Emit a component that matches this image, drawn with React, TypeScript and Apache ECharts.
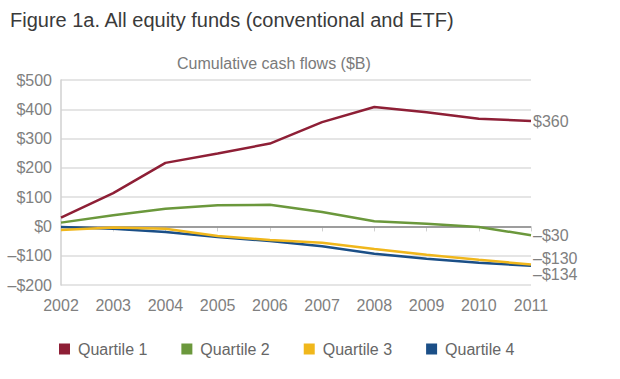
import React, { useEffect, useRef } from "react";
import * as echarts from "echarts";

const years = ["2002", "2003", "2004", "2005", "2006", "2007", "2008", "2009", "2010", "2011"];
const quartile1 = [30, 114, 217, 249, 283, 356, 408, 390, 368, 360];
const quartile2 = [13, 38, 60, 72, 74, 49, 18, 9, -2, -30];
const quartile3 = [-12, -4, -8, -33, -46, -56, -77, -97, -114, -130];
const quartile4 = [-2, -8, -19, -36, -50, -68, -93, -110, -124, -134];
const seriesNames = ["Quartile 1", "Quartile 2", "Quartile 3", "Quartile 4"];
const colors = ["#8e1f36", "#6b983c", "#f0b71c", "#1b4f87"];
const endOffsets = [[0, 0], [0, 0], [0, -6], [0, 9]];

function fmt(v: number) {
  return v < 0 ? "–$" + Math.abs(v) : "$" + v;
}

export default function App() {
  const ref = useRef<HTMLDivElement>(null);
  useEffect(() => {
    const chart = echarts.init(ref.current!, null, { renderer: "svg" });
    const data = [quartile1, quartile2, quartile3, quartile4];
    chart.setOption({
      animation: false,
      textStyle: { fontFamily: "Liberation Sans" },
      title: [
        {
          text: "Figure 1a. All equity funds (conventional and ETF)",
          left: 5,
          top: 5,
          textStyle: { fontSize: 20, fontWeight: "normal", color: "#3a3a3a", fontFamily: "Liberation Sans" },
        },
        {
          text: "Cumulative cash flows ($B)",
          left: 172,
          top: 50,
          textStyle: { fontSize: 16, fontWeight: "normal", color: "#7a7a7a", fontFamily: "Liberation Sans" },
        },
      ],
      legend: {
        data: seriesNames.map((n, i) => ({ name: n, itemStyle: { color: colors[i] } })),
        icon: "rect",
        itemWidth: 11,
        itemHeight: 11,
        itemGap: 34,
        left: 54,
        top: 336,
        textStyle: { fontSize: 16, color: "#666", fontFamily: "Liberation Sans", padding: [0, 0, 0, 3] },
      },
      grid: { left: 61, right: 89, top: 80, bottom: 94 },
      xAxis: {
        type: "category",
        data: years,
        boundaryGap: false,
        axisLine: { lineStyle: { color: "#d0d0d0", width: 1.5 } },
        axisTick: { show: true, length: 5, lineStyle: { color: "#d0d0d0" } },
        axisLabel: { color: "#808080", fontSize: 16, margin: 12 },
      },
      yAxis: {
        type: "value",
        min: -200,
        max: 500,
        interval: 100,
        axisLine: { show: true, lineStyle: { color: "#d0d0d0", width: 1.5 } },
        axisTick: { show: false },
        splitLine: { lineStyle: { color: "#dcdcdc", width: 1.5 } },
        axisLabel: { color: "#808080", fontSize: 16, margin: 9, formatter: (v: number) => fmt(v) },
      },
      series: data.map((d, i) => ({
        name: seriesNames[i],
        type: "line",
        data: d,
        symbol: "none",
        z: 10 - i,
        lineStyle: { color: colors[i], width: 2.5 },
        itemStyle: { color: colors[i] },
        endLabel: {
          show: true,
          formatter: (p: any) => fmt(p.value),
          color: "#808080",
          fontSize: 16,
          distance: 2,
          offset: endOffsets[i],
        },
        markLine:
          i === 0
            ? {
                silent: true,
                symbol: "none",
                label: { show: false },
                lineStyle: { color: "#8a8a8a", width: 1.5, type: "solid" },
                data: [{ yAxis: 0 }],
              }
            : undefined,
      })),
    });
    return () => chart.dispose();
  }, []);
  return <div ref={ref} style={{ width: 620, height: 379, position: "absolute", left: 0, top: 0 }} />;
}
